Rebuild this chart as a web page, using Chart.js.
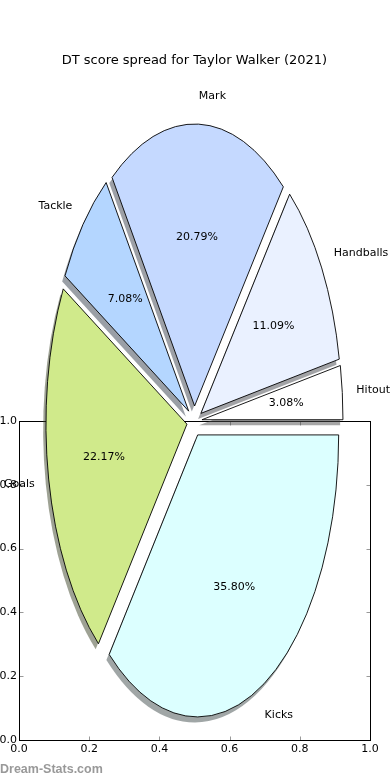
<!DOCTYPE html>
<html>
<head>
<meta charset="utf-8">
<script src="https://cdn.jsdelivr.net/npm/chart.js@4.4.1/dist/chart.umd.min.js"></script>
<style>
  html, body { margin: 0; padding: 0; background: #fff; }
  #wrap { position: relative; width: 390px; height: 780px; overflow: hidden; }
  #wrap canvas { position: absolute; left: 0; top: 0; }
  #credit { position: absolute; left: 0; top: 762px; font: bold 12.5px "Liberation Sans", Arial, sans-serif; color: #999; }
</style>
</head>
<body>
<div id="wrap">
  <canvas id="frame" width="390" height="780"></canvas>
  <canvas id="pie" width="390" height="780"></canvas>
  <div id="credit">Dream-Stats.com</div>
</div>
<script>
// matplotlib order (counter-clockwise from 3 o'clock)
const categories = ['Hitout', 'Handballs', 'Mark', 'Tackle', 'Goals', 'Kicks'];
const shares = [3.08, 11.09, 20.79, 7.08, 22.17, 35.80];
const axisTicks = [0, 0.2, 0.4, 0.6, 0.8, 1.0];

const sliceColors = ['#ffffff', '#eaf1ff', '#c5d9ff', '#b4d6ff', '#d0ea8b', '#dcffff'];
const FONT = 'DejaVu Sans';
const STRETCH = 2;        // pie is drawn twice as tall as wide
const EXPLODE = 7.6;      // how far each wedge is pulled out
const SHADOW = [-2.8, 2.8];

// Chart.js goes clockwise, so flip the order
const cwLabels = categories.slice().reverse();
const cwShares = shares.slice().reverse();
const cwColors = sliceColors.slice().reverse();

function shadowColor(hex) {
  const n = parseInt(hex.slice(1), 16);
  const r = Math.round(((n >> 16) & 255) * 0.3);
  const g = Math.round(((n >> 8) & 255) * 0.3);
  const b = Math.round((n & 255) * 0.3);
  return 'rgba(' + r + ',' + g + ',' + b + ',0.5)';
}

function center(chart) {
  const a = chart.chartArea;
  return [(a.left + a.right) / 2, (a.top + a.bottom) / 2];
}

function stretch(ctx, cx, cy) {
  ctx.translate(cx, cy);
  ctx.scale(1, STRETCH);
  ctx.translate(-cx, -cy);
}

function wedgePath(ctx, el, cx, cy, dx, dy) {
  ctx.save();
  stretch(ctx, cx, cy);
  ctx.beginPath();
  ctx.moveTo(el.x + dx, el.y + dy);
  ctx.arc(el.x + dx, el.y + dy, el.outerRadius, el.startAngle, el.endAngle);
  ctx.closePath();
  ctx.restore();
}

const ellipsePie = {
  id: 'ellipsePie',
  afterDatasetUpdate(chart) {
    const [cx, cy] = center(chart);
    chart.getDatasetMeta(0).data.forEach(el => {
      const mid = (el.startAngle + el.endAngle) / 2;
      el.x = cx + Math.cos(mid) * EXPLODE;
      el.y = cy + Math.sin(mid) * EXPLODE;
    });
  },
  beforeDatasetsDraw(chart) {
    const ctx = chart.ctx;
    const [cx, cy] = center(chart);
    chart.getDatasetMeta(0).data.forEach((el, i) => {
      wedgePath(ctx, el, cx, cy, SHADOW[0], SHADOW[1]);
      ctx.fillStyle = shadowColor(cwColors[i]);
      ctx.fill();
    });
    ctx.save();
    stretch(ctx, cx, cy);
  },
  afterDatasetsDraw(chart) {
    const ctx = chart.ctx;
    ctx.restore();
    const [cx, cy] = center(chart);
    const meta = chart.getDatasetMeta(0);
    ctx.save();
    ctx.strokeStyle = '#000';
    ctx.lineWidth = 0.9;
    ctx.lineJoin = 'round';
    meta.data.forEach(el => {
      wedgePath(ctx, el, cx, cy, 0, 0);
      ctx.stroke();
    });
    ctx.fillStyle = '#000';
    ctx.font = '11px "' + FONT + '"';
    ctx.textBaseline = 'middle';
    meta.data.forEach((el, i) => {
      const mid = (el.startAngle + el.endAngle) / 2;
      const c = Math.cos(mid), s = Math.sin(mid);
      const R = el.outerRadius;
      const at = f => [el.x + f * R * c, cy + STRETCH * (el.y - cy + f * R * s)];
      const [lx, ly] = at(1.1);
      ctx.textAlign = c > 0 ? 'left' : 'right';
      ctx.fillText(chart.data.labels[i], lx, ly);
      const [px, py] = at(0.6);
      ctx.textAlign = 'center';
      ctx.fillText(chart.data.datasets[0].data[i].toFixed(2) + '%', px, py);
    });
    ctx.restore();
  }
};

const frameBox = {
  id: 'frameBox',
  afterDraw(chart) {
    const ctx = chart.ctx;
    const {left, right, top, bottom} = chart.chartArea;
    const L = Math.round(left) + 0.5, R = Math.round(right) + 0.5;
    const T = Math.round(top) + 0.5, B = Math.round(bottom) + 0.5;
    ctx.save();
    ctx.strokeStyle = '#999';
    ctx.lineWidth = 1;
    ctx.beginPath();
    axisTicks.forEach(v => {
      const x = Math.round(chart.scales.x.getPixelForValue(v)) + 0.5;
      ctx.moveTo(x, B); ctx.lineTo(x, B - 4);
      ctx.moveTo(x, T); ctx.lineTo(x, T + 4);
      const y = Math.round(chart.scales.y.getPixelForValue(v)) + 0.5;
      ctx.moveTo(L, y); ctx.lineTo(L + 4, y);
      ctx.moveTo(R, y); ctx.lineTo(R - 4, y);
    });
    ctx.stroke();
    ctx.strokeStyle = '#000';
    ctx.strokeRect(L, T, R - L, B - T);
    ctx.restore();
  }
};

const tickFont = { family: FONT, size: 11 };

new Chart(document.getElementById('frame'), {
  type: 'scatter',
  data: { datasets: [] },
  options: {
    responsive: false,
    animation: false,
    events: [],
    layout: { padding: { left: 0, right: 20, top: 421, bottom: 0 } },
    plugins: { legend: { display: false }, tooltip: { enabled: false } },
    scales: {
      x: {
        min: 0, max: 1,
        afterBuildTicks: s => { s.ticks = axisTicks.map(v => ({ value: v })); },
        afterFit: s => { s.height = 40; },
        grid: { display: false, drawTicks: false },
        border: { display: false },
        ticks: { font: tickFont, color: '#000', padding: 3, maxRotation: 0, callback: v => v.toFixed(1) }
      },
      y: {
        min: 0, max: 1,
        afterBuildTicks: s => { s.ticks = axisTicks.map(v => ({ value: v })); },
        afterFit: s => { s.width = 19; },
        grid: { display: false, drawTicks: false },
        border: { display: false },
        ticks: { font: tickFont, color: '#000', padding: 2, callback: v => v.toFixed(1) }
      }
    }
  },
  plugins: [frameBox]
});

new Chart(document.getElementById('pie'), {
  type: 'pie',
  data: {
    labels: cwLabels,
    datasets: [{
      data: cwShares,
      backgroundColor: cwColors,
      borderWidth: 0,
      radius: 141,
      rotation: 90,
      clip: false
    }]
  },
  options: {
    responsive: false,
    animation: false,
    events: [],
    rotation: 90,
    radius: 141,
    layout: { padding: { left: 0, right: 1.2, top: 0, bottom: 6.2 } },
    plugins: {
      legend: { display: false },
      tooltip: { enabled: false },
      title: {
        display: true,
        text: 'DT score spread for Taylor Walker (2021)',
        color: '#000',
        font: { family: FONT, size: 13, weight: 'normal' },
        padding: { top: 53, bottom: 0 }
      }
    }
  },
  plugins: [ellipsePie]
});
</script>
</body>
</html>
